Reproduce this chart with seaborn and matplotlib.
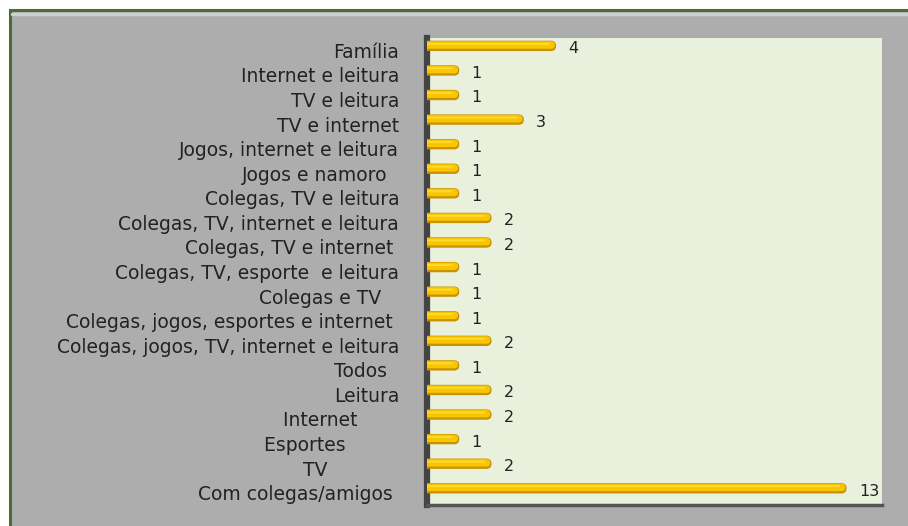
import matplotlib
matplotlib.use("Agg")
import matplotlib.pyplot as plt
import seaborn as sns
import pandas as pd
from matplotlib.patches import FancyBboxPatch, Rectangle
from matplotlib.lines import Line2D

categories = [
    "Família",
    "Internet e leitura",
    "TV e leitura",
    "TV e internet",
    "Jogos, internet e leitura",
    "Jogos e namoro  ",
    "Colegas, TV e leitura",
    "Colegas, TV, internet e leitura",
    "Colegas, TV e internet ",
    "Colegas, TV, esporte  e leitura",
    "Colegas e TV   ",
    "Colegas, jogos, esportes e internet ",
    "Colegas, jogos, TV, internet e leitura",
    "Todos  ",
    "Leitura",
    "Internet       ",
    "Esportes         ",
    "TV            ",
    "Com colegas/amigos ",
]
values = [4, 1, 1, 3, 1, 1, 1, 2, 2, 1, 1, 1, 2, 1, 2, 2, 1, 2, 13]

df = pd.DataFrame({"cat": categories, "val": values})

sns.set_theme(style="white")
plt.rcParams["font.family"] = ["DejaVu Sans"]

fig = plt.figure(figsize=(9.08, 5.26), dpi=100)
fig.patch.set_facecolor("white")

# outer gray frame
frame = Rectangle((10 / 908, -0.05), 1.2, 1 - 10 / 526 + 0.05, transform=fig.transFigure,
                  facecolor="#adadad", edgecolor="#4b6b3c", linewidth=2.2, zorder=0)
fig.add_artist(frame)
fig.add_artist(Line2D([12 / 908, 1], [1 - 14 / 526, 1 - 14 / 526], transform=fig.transFigure,
                      color="#cfcfcf", linewidth=2.5, zorder=1))

ax = fig.add_axes([427 / 908, 21 / 526, 455 / 908, 467 / 526])
ax.set_facecolor("#e9f0dc")

sns.barplot(data=df, x="val", y="cat", orient="h", color="#f2c200", width=0.42, ax=ax)

ax.set_xlim(0, 14.1)
ax.set_ylim(len(categories) - 0.5, -0.5)

# replace bars with rounded cylinder-like bars
shift = 0.18
asp = 32.3 / 24.6  # px per x unit / px per y unit
for p in list(ax.patches):
    x0, y0 = p.get_x(), p.get_y()
    w, h = p.get_width(), p.get_height()
    p.remove()
    y0 -= shift
    base = FancyBboxPatch((x0 - 0.3, y0), w + 0.3, h,
                          boxstyle=f"round,pad=0,rounding_size={h/2/asp:.4f}",
                          mutation_aspect=asp, facecolor="#c99000", edgecolor="none",
                          zorder=3, clip_on=True)
    ax.add_patch(base)
    top = FancyBboxPatch((x0 - 0.3, y0 + h * 0.06), w + 0.3 - 0.04, h * 0.72,
                         boxstyle=f"round,pad=0,rounding_size={h*0.36/asp:.4f}",
                         mutation_aspect=asp, facecolor="#f7c600", edgecolor="none",
                         zorder=4, clip_on=True)
    ax.add_patch(top)
    hl = FancyBboxPatch((x0 - 0.3, y0 + h * 0.2), w + 0.3 - 0.2, h * 0.2,
                        boxstyle=f"round,pad=0,rounding_size={h*0.1/asp:.4f}",
                        mutation_aspect=asp, facecolor="#ffd92e", edgecolor="none",
                        zorder=5, clip_on=True)
    ax.add_patch(hl)
    ax.text(x0 + w + 0.38, y0 + h / 2 + 0.12, f"{int(round(w))}", ha="left", va="center",
            fontsize=11.5, color="#222222", zorder=6)

ax.set_xlabel("")
ax.set_ylabel("")
ax.set_xticks([])
ax.tick_params(axis="y", length=0, pad=20, labelsize=13.5, labelcolor="#222222")

for s in ["top", "right"]:
    ax.spines[s].set_visible(False)
ax.spines["left"].set_color("#444444")
ax.spines["left"].set_linewidth(4.5)
ax.spines["bottom"].set_color("#555555")
ax.spines["bottom"].set_linewidth(2.5)

fig.savefig("out.png", dpi=100, facecolor=fig.get_facecolor())
